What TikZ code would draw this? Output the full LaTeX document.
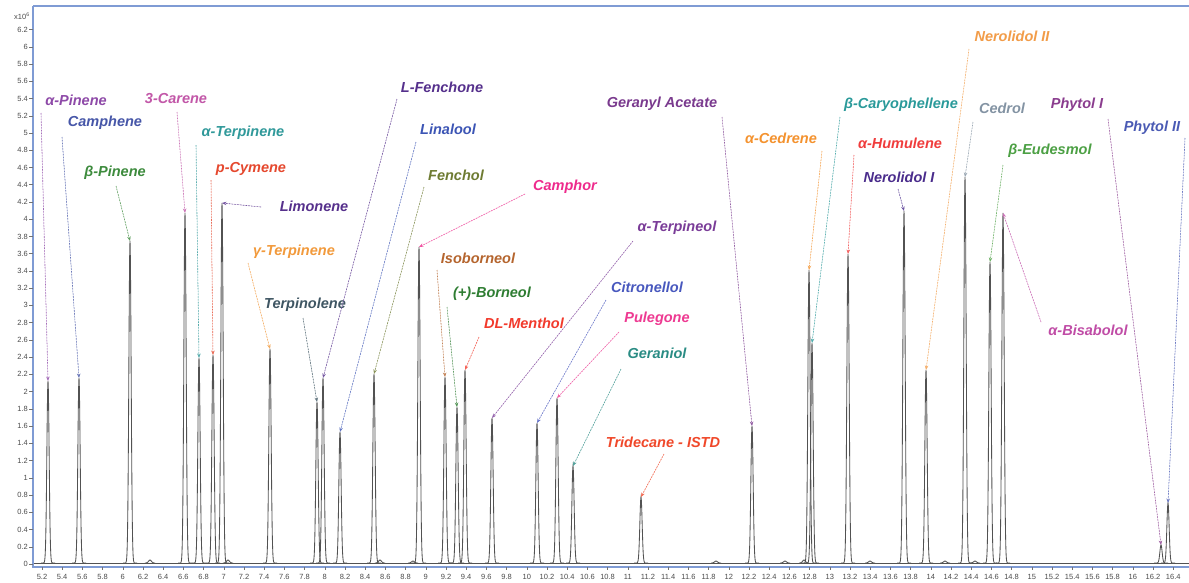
\documentclass[tikz,border=0pt]{standalone}
\usepackage{fontspec}
\setmainfont{Liberation Sans}
\usetikzlibrary{arrows.meta}
\definecolor{apinC}{HTML}{8E4AA8}
\definecolor{camphC}{HTML}{4656A8}
\definecolor{bpinC}{HTML}{3D8B3D}
\definecolor{careneC}{HTML}{C257A8}
\definecolor{aterpC}{HTML}{30999A}
\definecolor{pcymC}{HTML}{E5482E}
\definecolor{limC}{HTML}{56308C}
\definecolor{gterpC}{HTML}{F29A3C}
\definecolor{terpinoC}{HTML}{3F5663}
\definecolor{fenchoneC}{HTML}{55308C}
\definecolor{linC}{HTML}{3C55B5}
\definecolor{fencholC}{HTML}{6E7B32}
\definecolor{camphorC}{HTML}{EE2A8C}
\definecolor{isobC}{HTML}{B5652E}
\definecolor{bornC}{HTML}{2E7D32}
\definecolor{mentholC}{HTML}{F23A2C}
\definecolor{aterpinolC}{HTML}{7A3C98}
\definecolor{citronC}{HTML}{4858BE}
\definecolor{pulegC}{HTML}{EE3A92}
\definecolor{geranC}{HTML}{2A8C84}
\definecolor{tridC}{HTML}{F0482A}
\definecolor{geracC}{HTML}{7A3A8E}
\definecolor{cedreneC}{HTML}{F4922E}
\definecolor{caryC}{HTML}{2A9A9A}
\definecolor{humC}{HTML}{F03C3C}
\definecolor{nerIC}{HTML}{4A2C8C}
\definecolor{nerIIC}{HTML}{F29C48}
\definecolor{cedrolC}{HTML}{8393A3}
\definecolor{eudC}{HTML}{4CA044}
\definecolor{bisC}{HTML}{C04CA6}
\definecolor{phyIC}{HTML}{8A3C8E}
\definecolor{phyIIC}{HTML}{4A5AB4}
\definecolor{axisblue}{HTML}{7F9BD4}
\newcommand\pk[3]{%
  \draw[peakline] plot[domain=-7:7,samples=57] ({#1+\x},{563-(563-#2)*exp(-(\x*\x)/2.6)});
  \coordinate (#3) at (#1,#2);}
\newcommand\bump[2]{%
  \draw[peakline] plot[domain=-5:5,samples=21] ({#1+\x},{563-(563-#2)*exp(-(\x*\x)/4)});}
\tikzset{
  lab/.style={font=\fontsize{14.5}{16}\selectfont\bfseries\itshape, inner sep=0pt, anchor=center},
  conn/.style={line width=0.6pt, dash pattern=on 1.6pt off 1.2pt, -{Stealth[length=4.5pt,width=3.5pt]}},
  peakline/.style={draw=black!68, line width=0.85pt},
  axisline/.style={draw=axisblue, line width=1.6pt},
  ticklab/.style={font=\fontsize{7.5}{8}\selectfont, text=black!70, inner sep=0pt},
  tickmark/.style={draw=black!55, line width=0.5pt},
}
\begin{document}
\begin{tikzpicture}[x=1pt,y=-1pt]
\useasboundingbox (0,0) rectangle (1189,582);
\fill[white] (0,0) rectangle (1189,582);
% axes
\draw[axisblue, line width=1.2pt] (33,6) -- (1189,6);
\draw[axisline] (33,6) -- (33,567) -- (1189,567);
% y ticks
\foreach \v [count=\i] in {0,0.2,0.4,0.6,0.8,1,1.2,1.4,1.6,1.8,2,2.2,2.4,2.6,2.8,3,3.2,3.4,3.6,3.8,4,4.2,4.4,4.6,4.8,5,5.2,5.4,5.6,5.8,6,6.2}{
  \pgfmathsetmacro\yy{564-86.2*\v}
  \draw[tickmark] (29,\yy) -- (33,\yy);
  \node[ticklab, anchor=east] (yt\i) at (28,\yy) {\v};
}
\node[ticklab, anchor=west] (yunit) at (14,16) {x10\textsuperscript{6}};
% x ticks
\foreach \tv [count=\i] in {5.2,5.4,5.6,5.8,6,6.2,6.4,6.6,6.8,7,7.2,7.4,7.6,7.8,8,8.2,8.4,8.6,8.8,9,9.2,9.4,9.6,9.8,10,10.2,10.4,10.6,10.8,11,11.2,11.4,11.6,11.8,12,12.2,12.4,12.6,12.8,13,13.2,13.4,13.6,13.8,14,14.2,14.4,14.6,14.8,15,15.2,15.4,15.6,15.8,16,16.2,16.4}{
  \pgfmathsetmacro\xx{42+(\tv-5.2)*101}
  \draw[tickmark] (\xx,567) -- (\xx,570);
  \node[ticklab] (xt\i) at (\xx,577) {\tv};
}
% baseline
\draw[peakline] (34,563) -- (1189,563);
% small bumps
\bump{150}{560}\bump{228}{560}\bump{380}{560}\bump{413}{561}\bump{716}{561}
\bump{785}{561}\bump{804}{560}\bump{870}{561}\bump{945}{561}\bump{975}{561}
% peaks
\pk{48}{381}{Papin}
\pk{79}{378}{Pcamph}
\pk{130}{241}{Pbpin}
\pk{185}{213}{Pcarene}
\pk{199}{358}{Paterp}
\pk{213}{355}{Ppcym}
\pk{222}{203}{Plim}
\pk{270}{349}{Pgterp}
\pk{317}{402}{Pterpino}
\pk{323}{378}{Pfenchone}
\pk{340}{432}{Plin}
\pk{374}{374}{Pfenchol}
\pk{419}{247}{Pcamphor}
\pk{445}{377}{Pisob}
\pk{457}{407}{Pborn}
\pk{465}{370}{Pmenthol}
\pk{492}{418}{Paterpinol}
\pk{537}{423}{Pcitron}
\pk{557}{398}{Ppuleg}
\pk{573}{466}{Pgeran}
\pk{641}{497}{Ptrid}
\pk{752}{426}{Pgerac}
\pk{809}{270}{Pcedrene}
\pk{812}{343}{Pcary}
\pk{848}{254}{Phum}
\pk{904}{211}{PnerI}
\pk{926}{370}{PnerII}
\pk{965}{177}{Pcedrol}
\pk{990}{262}{Peud}
\pk{1003}{213}{Pbis}
\pk{1161}{545}{PphyI}
\pk{1168}{503}{PphyII}
% labels
\node[lab, text=apinC] (Lapin) at (76,100) {α-Pinene};
\node[lab, text=camphC] (Lcamph) at (105,123) {Camphene};
\node[lab, text=bpinC] (Lbpin) at (115,173) {β-Pinene};
\node[lab, text=careneC] (Lcarene) at (176,99) {3-Carene};
\node[lab, text=aterpC] (Laterp) at (243,133) {α-Terpinene};
\node[lab, text=pcymC] (Lpcym) at (251,169) {p-Cymene};
\node[lab, text=limC] (Llim) at (314,206) {Limonene};
\node[lab, text=gterpC] (Lgterp) at (294,252) {γ-Terpinene};
\node[lab, text=terpinoC] (Lterpino) at (305,305) {Terpinolene};
\node[lab, text=fenchoneC] (Lfenchone) at (442,87) {L-Fenchone};
\node[lab, text=linC] (Llin) at (448,129) {Linalool};
\node[lab, text=fencholC] (Lfenchol) at (456,175) {Fenchol};
\node[lab, text=camphorC] (Lcamphor) at (565,187) {Camphor};
\node[lab, text=isobC] (Lisob) at (478,258) {Isoborneol};
\node[lab, text=bornC] (Lborn) at (492,294) {(+)-Borneol};
\node[lab, text=mentholC] (Lmenthol) at (524,323) {DL-Menthol};
\node[lab, text=aterpinolC] (Laterpinol) at (677,228) {α-Terpineol};
\node[lab, text=citronC] (Lcitron) at (647,287) {Citronellol};
\node[lab, text=pulegC] (Lpuleg) at (657,319) {Pulegone};
\node[lab, text=geranC] (Lgeran) at (657,353) {Geraniol};
\node[lab, text=tridC] (Ltrid) at (663,442) {Tridecane - ISTD};
\node[lab, text=geracC] (Lgerac) at (662,104) {Geranyl Acetate};
\node[lab, text=cedreneC] (Lcedrene) at (781,138) {α-Cedrene};
\node[lab, text=caryC] (Lcary) at (901,105) {β-Caryophellene};
\node[lab, text=humC] (Lhum) at (900,143) {α-Humulene};
\node[lab, text=nerIC] (LnerI) at (899,177) {Nerolidol I};
\node[lab, text=nerIIC] (LnerII) at (1012,36) {Nerolidol II};
\node[lab, text=cedrolC] (Lcedrol) at (1002,108) {Cedrol};
\node[lab, text=eudC] (Leud) at (1050,151) {β-Eudesmol};
\node[lab, text=bisC] (Lbis) at (1088,330) {α-Bisabolol};
\node[lab, text=phyIC] (LphyI) at (1077,105) {Phytol I};
\node[lab, text=phyIIC] (LphyII) at (1152,128) {Phytol II};
% connector start points
\coordinate (Sapin) at (41,113);
\coordinate (Scamph) at (62,137);
\coordinate (Sbpin) at (116,186);
\coordinate (Scarene) at (177,112);
\coordinate (Saterp) at (196,145);
\coordinate (Spcym) at (211,180);
\coordinate (Slim) at (261,207);
\coordinate (Sgterp) at (248,263);
\coordinate (Sterpino) at (303,318);
\coordinate (Sfenchone) at (397,99);
\coordinate (Slin) at (416,142);
\coordinate (Sfenchol) at (424,187);
\coordinate (Scamphor) at (525,194);
\coordinate (Sisob) at (437,270);
\coordinate (Sborn) at (447,307);
\coordinate (Smenthol) at (479,337);
\coordinate (Saterpinol) at (633,241);
\coordinate (Scitron) at (606,300);
\coordinate (Spuleg) at (619,332);
\coordinate (Sgeran) at (621,369);
\coordinate (Strid) at (664,454);
\coordinate (Sgerac) at (722,117);
\coordinate (Scedrene) at (822,151);
\coordinate (Scary) at (840,117);
\coordinate (Shum) at (854,155);
\coordinate (SnerI) at (898,189);
\coordinate (SnerII) at (969,49);
\coordinate (Scedrol) at (973,122);
\coordinate (Seud) at (1003,165);
\coordinate (Sbis) at (1041,322);
\coordinate (SphyI) at (1108,119);
\coordinate (SphyII) at (1185,138);
% connectors
\foreach \n/\c in {apin/apinC,camph/camphC,bpin/bpinC,carene/careneC,aterp/aterpC,pcym/pcymC,lim/limC,gterp/gterpC,terpino/terpinoC,fenchone/fenchoneC,lin/linC,fenchol/fencholC,camphor/camphorC,isob/isobC,born/bornC,menthol/mentholC,aterpinol/aterpinolC,citron/citronC,puleg/pulegC,geran/geranC,trid/tridC,gerac/geracC,cedrene/cedreneC,cary/caryC,hum/humC,nerI/nerIC,nerII/nerIIC,cedrol/cedrolC,eud/eudC,bis/bisC,phyI/phyIC,phyII/phyIIC}{
  \draw[conn, draw=\c!80!white, fill=\c!80!white] (S\n) -- (P\n);
}
\end{tikzpicture}
\end{document}
